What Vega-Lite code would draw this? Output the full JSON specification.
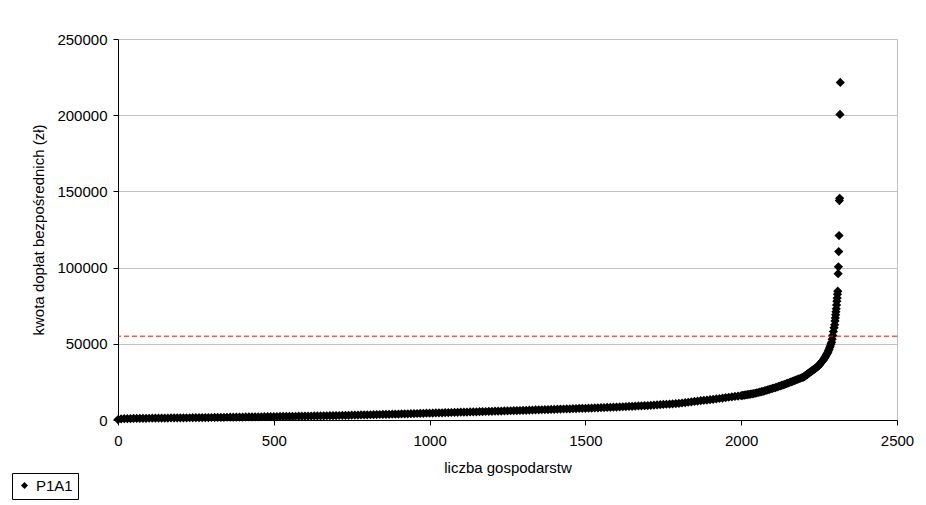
{
  "$schema": "https://vega.github.io/schema/vega-lite/v6.json",
  "width": 779,
  "height": 381,
  "autosize": "none",
  "padding": {"left": 118, "top": 39, "right": 29, "bottom": 85},
  "background": "white",
  "config": {
    "view": {"stroke": "#c0c0c0", "strokeWidth": 1},
    "font": "Liberation Sans",
    "axis": {
      "domainColor": "#000000",
      "tickColor": "#000000",
      "tickSize": 5,
      "labelColor": "#000000",
      "labelFontSize": 15,
      "labelFont": "Liberation Sans",
      "titleFont": "Liberation Sans",
      "titleFontSize": 15,
      "titleFontWeight": "normal",
      "titleColor": "#000000",
      "gridColor": "#c0c0c0",
      "gridWidth": 1
    }
  },
  "datasets": {
    "pts": [
      {"n":0,"v":300},{"n":10,"v":700},{"n":20,"v":850},{"n":30,"v":900},{"n":40,"v":950},{"n":50,"v":1000},{"n":60,"v":1030},{"n":70,"v":1060},{"n":80,"v":1090},{"n":90,"v":1120},{"n":100,"v":1150},
      {"n":110,"v":1175},{"n":120,"v":1200},{"n":130,"v":1225},{"n":140,"v":1250},{"n":150,"v":1275},{"n":160,"v":1300},{"n":170,"v":1325},{"n":180,"v":1350},{"n":190,"v":1375},{"n":200,"v":1400},
      {"n":210,"v":1425},{"n":220,"v":1450},{"n":230,"v":1475},{"n":240,"v":1500},{"n":250,"v":1525},{"n":260,"v":1550},{"n":270,"v":1575},{"n":280,"v":1600},{"n":290,"v":1625},{"n":300,"v":1650},
      {"n":310,"v":1680},{"n":320,"v":1710},{"n":330,"v":1740},{"n":340,"v":1770},{"n":350,"v":1800},{"n":360,"v":1830},{"n":370,"v":1860},{"n":380,"v":1890},{"n":390,"v":1920},{"n":400,"v":1950},
      {"n":410,"v":1980},{"n":420,"v":2010},{"n":430,"v":2040},{"n":440,"v":2070},{"n":450,"v":2100},{"n":460,"v":2130},{"n":470,"v":2160},{"n":480,"v":2190},{"n":490,"v":2220},{"n":500,"v":2250},
      {"n":510,"v":2280},{"n":520,"v":2310},{"n":530,"v":2340},{"n":540,"v":2370},{"n":550,"v":2400},{"n":560,"v":2430},{"n":570,"v":2460},{"n":580,"v":2490},{"n":590,"v":2520},{"n":600,"v":2550},
      {"n":610,"v":2585},{"n":620,"v":2620},{"n":630,"v":2655},{"n":640,"v":2690},{"n":650,"v":2725},{"n":660,"v":2760},{"n":670,"v":2795},{"n":680,"v":2830},{"n":690,"v":2865},{"n":700,"v":2900},
      {"n":710,"v":2950},{"n":720,"v":3000},{"n":730,"v":3050},{"n":740,"v":3100},{"n":750,"v":3150},{"n":760,"v":3200},{"n":770,"v":3250},{"n":780,"v":3300},{"n":790,"v":3350},{"n":800,"v":3400},
      {"n":810,"v":3450},{"n":820,"v":3500},{"n":830,"v":3550},{"n":840,"v":3600},{"n":850,"v":3650},{"n":860,"v":3700},{"n":870,"v":3750},{"n":880,"v":3800},{"n":890,"v":3850},{"n":900,"v":3900},
      {"n":910,"v":3960},{"n":920,"v":4020},{"n":930,"v":4080},{"n":940,"v":4140},{"n":950,"v":4200},{"n":960,"v":4260},{"n":970,"v":4320},{"n":980,"v":4380},{"n":990,"v":4440},{"n":1000,"v":4500},
      {"n":1010,"v":4560},{"n":1020,"v":4620},{"n":1030,"v":4680},{"n":1040,"v":4740},{"n":1050,"v":4800},{"n":1060,"v":4860},{"n":1070,"v":4920},{"n":1080,"v":4980},{"n":1090,"v":5040},{"n":1100,"v":5100},
      {"n":1110,"v":5160},{"n":1120,"v":5220},{"n":1130,"v":5280},{"n":1140,"v":5340},{"n":1150,"v":5400},{"n":1160,"v":5460},{"n":1170,"v":5520},{"n":1180,"v":5580},{"n":1190,"v":5640},{"n":1200,"v":5700},
      {"n":1210,"v":5760},{"n":1220,"v":5820},{"n":1230,"v":5880},{"n":1240,"v":5940},{"n":1250,"v":6000},{"n":1260,"v":6060},{"n":1270,"v":6120},{"n":1280,"v":6180},{"n":1290,"v":6240},{"n":1300,"v":6300},
      {"n":1310,"v":6370},{"n":1320,"v":6440},{"n":1330,"v":6510},{"n":1340,"v":6580},{"n":1350,"v":6650},{"n":1360,"v":6720},{"n":1370,"v":6790},{"n":1380,"v":6860},{"n":1390,"v":6930},{"n":1400,"v":7000},
      {"n":1410,"v":7070},{"n":1420,"v":7140},{"n":1430,"v":7210},{"n":1440,"v":7280},{"n":1450,"v":7350},{"n":1460,"v":7420},{"n":1470,"v":7490},{"n":1480,"v":7560},{"n":1490,"v":7630},{"n":1500,"v":7700},
      {"n":1510,"v":7780},{"n":1520,"v":7860},{"n":1530,"v":7940},{"n":1540,"v":8020},{"n":1550,"v":8100},{"n":1560,"v":8180},{"n":1570,"v":8260},{"n":1580,"v":8340},{"n":1590,"v":8420},{"n":1600,"v":8500},
      {"n":1610,"v":8600},{"n":1620,"v":8700},{"n":1630,"v":8800},{"n":1640,"v":8900},{"n":1650,"v":9000},{"n":1660,"v":9100},{"n":1670,"v":9200},{"n":1680,"v":9300},{"n":1690,"v":9400},{"n":1700,"v":9500},
      {"n":1710,"v":9640},{"n":1720,"v":9780},{"n":1730,"v":9920},{"n":1740,"v":10060},{"n":1750,"v":10200},{"n":1760,"v":10340},{"n":1770,"v":10480},{"n":1780,"v":10620},{"n":1790,"v":10760},{"n":1800,"v":10900},
      {"n":1810,"v":11150},{"n":1820,"v":11400},{"n":1830,"v":11650},{"n":1840,"v":11900},{"n":1850,"v":12150},{"n":1860,"v":12400},{"n":1870,"v":12650},{"n":1880,"v":12900},{"n":1890,"v":13100},{"n":1900,"v":13300},
      {"n":1910,"v":13570},{"n":1920,"v":13840},{"n":1930,"v":14110},{"n":1940,"v":14380},{"n":1950,"v":14650},{"n":1960,"v":14920},{"n":1970,"v":15190},{"n":1980,"v":15460},{"n":1990,"v":15730},{"n":2000,"v":16000},
      {"n":2005,"v":16150},{"n":2010,"v":16300},{"n":2015,"v":16450},{"n":2020,"v":16600},{"n":2025,"v":16750},{"n":2030,"v":16950},{"n":2035,"v":17150},{"n":2040,"v":17350},{"n":2045,"v":17550},{"n":2050,"v":17800},
      {"n":2055,"v":18050},{"n":2060,"v":18300},{"n":2065,"v":18550},{"n":2070,"v":18850},{"n":2075,"v":19150},{"n":2080,"v":19450},{"n":2085,"v":19750},{"n":2090,"v":20050},{"n":2095,"v":20350},{"n":2100,"v":20700},
      {"n":2105,"v":21000},{"n":2110,"v":21300},{"n":2115,"v":21650},{"n":2120,"v":22000},{"n":2125,"v":22350},{"n":2130,"v":22700},{"n":2135,"v":23050},{"n":2140,"v":23400},{"n":2145,"v":23800},{"n":2150,"v":24200},
      {"n":2155,"v":24600},{"n":2160,"v":25000},{"n":2165,"v":25400},{"n":2170,"v":25800},{"n":2175,"v":26200},{"n":2180,"v":26600},{"n":2185,"v":27000},{"n":2190,"v":27400},{"n":2195,"v":27800},{"n":2200,"v":28200},
      {"n":2202,"v":28500},{"n":2204,"v":28800},{"n":2206,"v":29100},{"n":2208,"v":29400},{"n":2210,"v":29700},{"n":2212,"v":30000},{"n":2214,"v":30300},{"n":2216,"v":30600},{"n":2218,"v":30900},{"n":2220,"v":31200},
      {"n":2222,"v":31500},{"n":2224,"v":31800},{"n":2226,"v":32100},{"n":2228,"v":32400},{"n":2230,"v":32700},{"n":2232,"v":33000},{"n":2234,"v":33300},{"n":2236,"v":33600},{"n":2238,"v":33900},{"n":2240,"v":34200},
      {"n":2242,"v":34500},{"n":2244,"v":34850},{"n":2246,"v":35200},{"n":2248,"v":35600},{"n":2250,"v":36000},{"n":2252,"v":36500},{"n":2254,"v":37000},{"n":2256,"v":37500},{"n":2258,"v":38000},{"n":2260,"v":38500},
      {"n":2262,"v":39000},{"n":2264,"v":39600},{"n":2266,"v":40200},{"n":2268,"v":40800},{"n":2270,"v":41500},{"n":2272,"v":42200},{"n":2274,"v":42900},{"n":2276,"v":43700},{"n":2278,"v":44500},{"n":2280,"v":45500},
      {"n":2282,"v":46500},{"n":2284,"v":47500},{"n":2286,"v":48600},{"n":2288,"v":49800},{"n":2290,"v":51000},
      {"n":2292,"v":53000},{"n":2294,"v":55500},{"n":2296,"v":58000},{"n":2298,"v":60500},{"n":2300,"v":62500},{"n":2301,"v":65000},{"n":2302,"v":67000},{"n":2303,"v":69000},{"n":2304,"v":71000},{"n":2305,"v":73000},
      {"n":2306,"v":75500},{"n":2307,"v":78000},{"n":2308,"v":80000},{"n":2309,"v":82500},{"n":2310,"v":84500},{"n":2311,"v":96000},{"n":2312,"v":100500},{"n":2313,"v":110500},{"n":2314,"v":121000},{"n":2315,"v":144000},
      {"n":2316,"v":145500},{"n":2317,"v":200500},{"n":2318,"v":221500}
    ],
    "thr": [{"limit": 55000}]
  },
  "layer": [
    {
      "data": {"name": "pts"},
      "mark": {"type": "point", "filled": true, "size": 85, "opacity": 1, "color": "#000000"},
      "encoding": {
        "x": {
          "field": "n", "type": "quantitative",
          "scale": {"domain": [0, 2500], "nice": false},
          "axis": {"values": [0, 500, 1000, 1500, 2000, 2500], "format": "d", "grid": false, "labelFlush": false, "title": "liczba gospodarstw", "labelPadding": 8, "titlePadding": 12}
        },
        "y": {
          "field": "v", "type": "quantitative",
          "scale": {"domain": [0, 250000], "nice": false},
          "axis": {"values": [0, 50000, 100000, 150000, 200000, 250000], "format": "d", "grid": true, "labelFlush": false, "title": "kwota dopłat bezpośrednich (zł)", "labelPadding": 6, "titlePadding": 10}
        },
        "shape": {
          "datum": "P1A1",
          "scale": {"range": ["diamond"]},
          "legend": {
            "title": null, "orient": "none", "legendX": -106, "legendY": 434,
            "strokeColor": "#000000", "padding": 5, "cornerRadius": 0,
            "labelFontSize": 15, "labelColor": "#000000", "labelFont": "Liberation Sans",
            "symbolFillColor": "#000000", "symbolStrokeWidth": 0, "symbolSize": 50, "symbolOffset": 0
          }
        }
      }
    },
    {
      "data": {"name": "thr"},
      "mark": {"type": "rule", "color": "#ff0000", "strokeDash": [5, 3], "strokeWidth": 1},
      "encoding": {"y": {"field": "limit", "type": "quantitative"}}
    }
  ]
}
